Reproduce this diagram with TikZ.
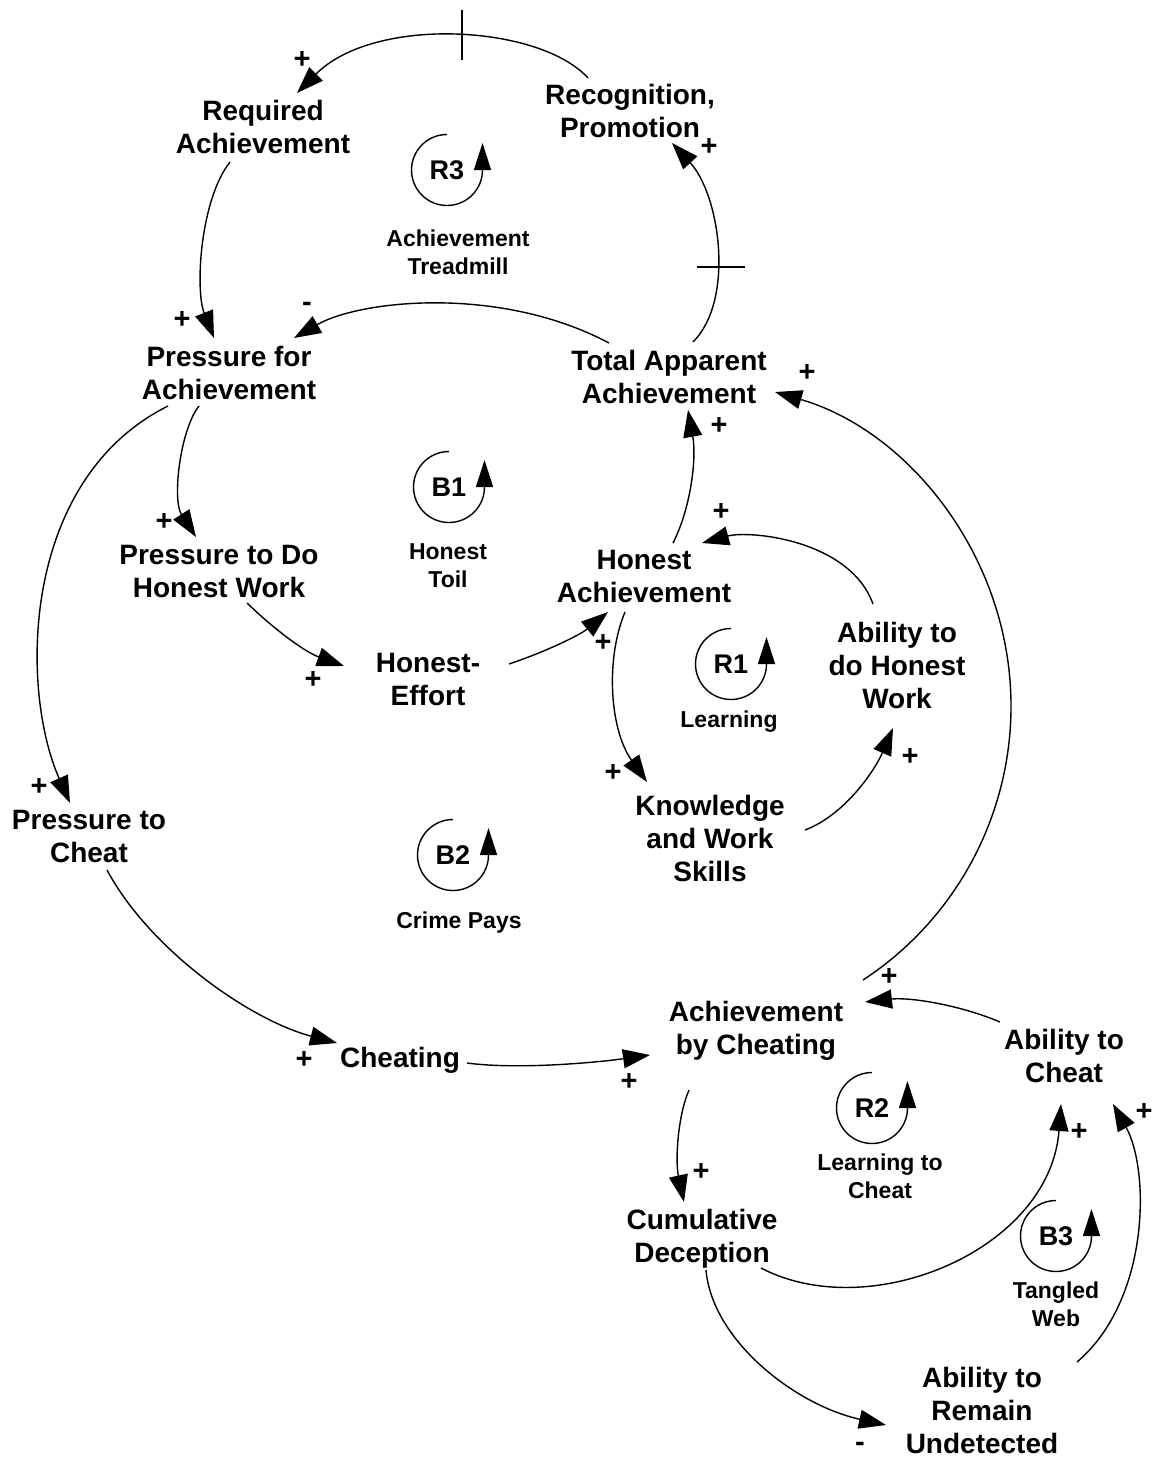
\documentclass[tikz,border=0pt]{standalone}
\usepackage{fontspec}
\setmainfont{Liberation Sans}
\usetikzlibrary{arrows.meta}
\begin{document}
\begin{tikzpicture}[x=1pt,y=-1pt,
  var/.style={font=\bfseries\fontsize{28}{33}\selectfont, align=center, inner sep=0pt, anchor=north},
  link/.style={line width=1.4pt, -{Triangle[length=27pt,width=19pt]}},
  sign/.style={font=\bfseries\fontsize{29}{29}\selectfont, inner sep=0pt},
  loopid/.style={font=\bfseries\fontsize{27}{27}\selectfont, inner sep=0pt},
  loopname/.style={font=\bfseries\fontsize{23}{28}\selectfont, align=center, inner sep=0pt},
  loopline/.style={line width=1.4pt, -{Triangle[length=27pt,width=17pt]}},
  delay/.style={line width=1.4pt}
]
\fill[white] (0,0) rectangle (1153,1460);
\useasboundingbox (0,0) rectangle (1153,1460);

% variables
\node[var] (ra)  at (263,100)  {Required\\Achievement};
\node[var] (rp)  at (630,84)   {Recognition,\\Promotion};
\node[var] (pa)  at (229,346)  {Pressure for\\Achievement};
\node[var] (tot) at (669,350)  {Total Apparent\\Achievement};
\node[var] (phw) at (219,545)  {Pressure to Do\\Honest Work};
\node[var] (ha)  at (644,550)  {Honest\\Achievement};
\node[var] (he)  at (428,653)  {Honest-\\Effort};
\node[var] (adh) at (897,622)  {Ability to\\do Honest\\Work};
\node[var] (kw)  at (710,795)  {Knowledge\\and Work\\Skills};
\node[var] (pc)  at (89,810)   {Pressure to\\Cheat};
\node[var] (ch)  at (400,1047) {Cheating};
\node[var] (abc) at (756,1001) {Achievement\\by Cheating};
\node[var] (ac)  at (1064,1029){Ability to\\Cheat};
\node[var] (cd)  at (702,1209) {Cumulative\\Deception};
\node[var] (aru) at (982,1367) {Ability to\\Remain\\Undetected};

% causal links
\draw[link] ([shift={(-42,-6)}]rp.north) .. controls +(-48,-53) and +(78,-78) .. ([shift={(34,-7)}]ra.north);
\draw[link] ([shift={(24,-8)}]tot.north) .. controls +(42,-42) and +(48,52) .. ([shift={(42,59)}]rp.north);
\draw[link] ([shift={(-33,62)}]ra.north) .. controls +(-30,38) and +(-19,-48) .. ([shift={(-15,-8)}]pa.north);
\draw[link] ([shift={(-60,-7)}]tot.north) .. controls +(-109,-58) and +(66,-38) .. ([shift={(65,-8)}]pa.north);
\draw[link] ([shift={(-30,60)}]pa.north) .. controls +(-19,24) and +(-24,-37) .. ([shift={(-23,-8)}]phw.north);
\draw[link] ([shift={(-61,60)}]pa.north) .. controls +(-148,74) and +(-50,-113) .. ([shift={(-19,-7)}]pc.north);
\draw[link] ([shift={(28,58)}]phw.north) .. controls +(28,27) and +(-39,-14) .. ([shift={(-84,13)}]he.north);
\draw[link] ([shift={(81,11)}]he.north) .. controls +(36,-12) and +(-28,23) .. ([shift={(-36,62)}]ha.north);
\draw[link] ([shift={(29,-7)}]ha.north) .. controls +(17,-33) and +(9,50) .. ([shift={(19,60)}]tot.north);
\draw[link] ([shift={(-24,-18)}]adh.north) .. controls +(-23,-64) and +(48,-13) .. ([shift={(58,-7)}]ha.north);
\draw[link] ([shift={(-19,62)}]ha.north) .. controls +(-20,48) and +(-37,-52) .. ([shift={(-63,-13)}]kw.north);
\draw[link] ([shift={(95,35)}]kw.north) .. controls +(40,-15) and +(-18,42) .. ([shift={(-4,106)}]adh.north);
\draw[link] ([shift={(18,60)}]pc.north) .. controls +(43,80) and +(-87,-23) .. ([shift={(-63,-4)}]ch.north);
\draw[link] ([shift={(67,16)}]ch.north) .. controls +(53,7) and +(-50,7) .. ([shift={(-106,54)}]abc.north);
\draw[link] ([shift={(107,-21)}]abc.north) .. controls +(107,-70) and (1026.3,784) .. (1007.4,657.7)
            .. controls (988.5,531.4) and +(122.6,35.6) .. ([shift={(106,42)}]tot.north);
\draw[link] ([shift={(-64,-7)}]ac.north) .. controls +(-40,-17) and +(45,-5) .. ([shift={(109,1)}]abc.north);
\draw[link] ([shift={(-67,89)}]abc.north) .. controls +(-11,25) and +(-9,-42) .. ([shift={(-18,-7)}]cd.north);
\draw[link] ([shift={(59,59)}]cd.north) .. controls +(109,57) and +(-11,146) .. ([shift={(-3,75)}]ac.north);
\draw[link] ([shift={(4,61)}]cd.north) .. controls +(6,70) and +(-91,-20) .. ([shift={(-96,58)}]aru.north);
\draw[link] ([shift={(95,-5)}]aru.north) .. controls +(73,-62) and +(37,66) .. ([shift={(49,75)}]ac.north);

% delay marks
\draw[delay] (462,10) -- (462,60);
\draw[delay] (697,267) -- (745,267);

% link polarities
\node[sign] (s1)  at (302,60)   {+};
\node[sign] (s2)  at (709,147)  {+};
\node[sign] (s3)  at (182,320)  {+};
\node[sign] (s4)  at (307,307)  {-};
\node[sign] (s5)  at (807,373)  {+};
\node[sign] (s6)  at (719,426)  {+};
\node[sign] (s7)  at (164,522)  {+};
\node[sign] (s8)  at (721,512)  {+};
\node[sign] (s9)  at (313,680)  {+};
\node[sign] (s10) at (603,643)  {+};
\node[sign] (s11) at (613,773)  {+};
\node[sign] (s12) at (910,757)  {+};
\node[sign] (s13) at (39,787)   {+};
\node[sign] (s14) at (304,1060) {+};
\node[sign] (s15) at (629,1082) {+};
\node[sign] (s16) at (889,977)  {+};
\node[sign] (s17) at (701,1172) {+};
\node[sign] (s18) at (1079,1132){+};
\node[sign] (s19) at (1144,1112){+};
\node[sign] (s20) at (860,1447) {-};

% loop identifiers
\foreach \nm/\cx/\cy/\lbl in {lr3/447/170/R3, lb1/449/487/B1, lb2/453/855/B2,
                              lr1/731/664/R1, lr2/872/1108/R2, lb3/1056/1236/B3}{
  \draw[loopline] (\cx,\cy) ++(0,-35.5) arc[start angle=270, end angle=0, radius=35.5] -- ++(0,-27);
  \node[loopid] (\nm) at (\cx,\cy) {\lbl};
}

% loop names
\node[loopname] (n1) at (458,252)  {Achievement\\Treadmill};
\node[loopname] (n2) at (448,566)  {Honest\\Toil};
\node[loopname] (n3) at (459,923)  {Crime Pays};
\node[loopname] (n4) at (729,722)  {Learning};
\node[loopname] (n5) at (880,1176) {Learning to\\Cheat};
\node[loopname] (n6) at (1056,1304){Tangled\\Web};
\end{tikzpicture}
\end{document}
